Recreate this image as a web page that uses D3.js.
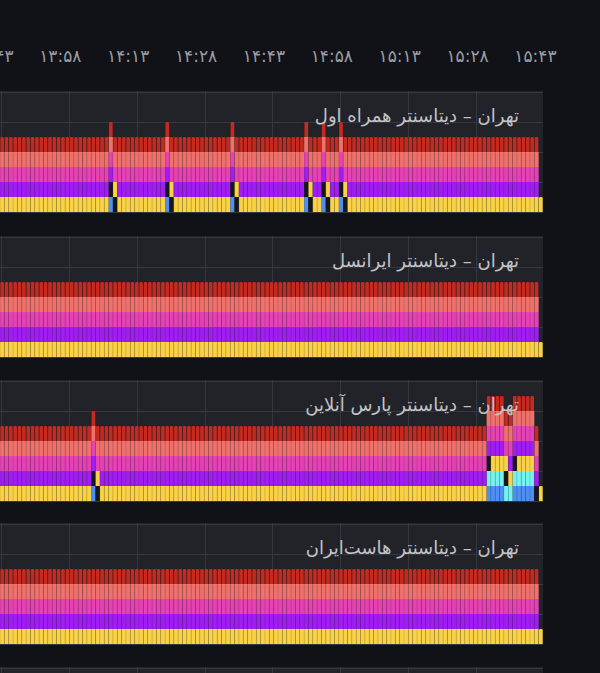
<!DOCTYPE html>
<html lang="fa">
<head>
<meta charset="utf-8">
<style>
  body { margin: 0; background: #111217; }
  svg { display: block; }
  .tick text { font-family: "DejaVu Sans", sans-serif; }
</style>
</head>
<body>
<svg id="chart" width="600" height="673"></svg>
<script src="https://cdn.jsdelivr.net/npm/d3@7"></script>
<script>
// stack order, bottom to top
var seriesKeys   = ["blue", "cyan", "dark", "yellow", "purple", "magenta", "salmon", "red"];
var seriesColors = ["#4f8ef2", "#74f3ef", "#16171c", "#f9d246", "#a11ef3", "#e542b3", "#ef716c", "#c52a20"];

// which series are up (value 1) for each kind of bar
var barCodes = {
  n: ["yellow", "purple", "magenta", "salmon", "red"],
  s: ["blue", "dark", "purple", "magenta", "salmon", "red"],
  p: ["dark", "yellow", "magenta", "salmon", "red"],
  a: ["blue", "cyan", "dark", "purple", "magenta", "salmon", "red"],
  b: ["blue", "cyan", "yellow", "purple", "magenta", "salmon", "red"],
  c: ["cyan", "dark", "yellow", "magenta", "salmon", "red"],
  d: ["cyan", "yellow", "purple", "magenta", "salmon", "red"],
  e: ["dark", "purple", "magenta", "salmon", "red"],
  y: ["yellow"]
};

var panelTitles = [
  "تهران – دیتاسنتر همراه اول",
  "تهران – دیتاسنتر ایرانسل",
  "تهران – دیتاسنتر پارس آنلاین",
  "تهران – دیتاسنتر هاست‌ایران",
  ""
];

// one letter per bar (125 bars per panel), rows of ten
var bars1 = ["nnnnnnnnnn","nnnnnnnnnn","nnnnnspnnn","nnnnnnnnsp","nnnnnnnnnn","nnnspnnnnn",
             "nnnnnnnnnn","spnnspnnsp","nnnnnnnnnn","nnnnnnnnnn","nnnnnnnnnn","nnnnnnnnnn","nnnny"];
var bars2 = ["nnnnnnnnnn","nnnnnnnnnn","nnnnnnnnnn","nnnnnnnnnn","nnnnnnnnnn","nnnnnnnnnn",
             "nnnnnnnnnn","nnnnnnnnnn","nnnnnnnnnn","nnnnnnnnnn","nnnnnnnnnn","nnnnnnnnnn","nnnny"];
var bars3 = ["nnnnnnnnnn","nnnnnnnnnn","nspnnnnnnn","nnnnnnnnnn","nnnnnnnnnn","nnnnnnnnnn",
             "nnnnnnnnnn","nnnnnnnnnn","nnnnnnnnnn","nnnnnnnnnn","nnnnnnnnnn","nnabbbcdab","bbbey"];
var bars4 = ["nnnnnnnnnn","nnnnnnnnnn","nnnnnnnnnn","nnnnnnnnnn","nnnnnnnnnn","nnnnnnnnnn",
             "nnnnnnnnnn","nnnnnnnnnn","nnnnnnnnnn","nnnnnnnnnn","nnnnnnnnnn","nnnnnnnnnn","nnnny"];
var panelBars = [bars1, bars2, bars3, bars4, null];

var tickTimes  = ["13:43", "13:58", "14:13", "14:28", "14:43", "14:58", "15:13", "15:28", "15:43"];
var tickLabels = ["۱۳:۴۳", "۱۳:۵۸", "۱۴:۱۳", "۱۴:۲۸", "۱۴:۴۳", "۱۴:۵۸", "۱۵:۱۳", "۱۵:۲۸", "۱۵:۴۳"];

var timeStart = "13:44:47", timeEnd = "15:44:47";

// ---------------------------------------------------------------

var svg = d3.select("#chart");
var plotW = 543;
var panelH = 121;
var panelTops = [91, 236, 380, 523, 667];

var parseT = d3.timeParse("%H:%M:%S");
var parseHM = d3.timeParse("%H:%M");
var x = d3.scaleTime().domain([parseT(timeStart), parseT(timeEnd)]).range([0, plotW]);

svg.append("rect").attr("width", 600).attr("height", 673).attr("fill", "#111217");

// time axis on top
var axis = svg.append("g")
    .attr("transform", "translate(0,46)")
    .call(d3.axisTop(x)
      .tickValues(tickTimes.map(parseHM))
      .tickFormat(function(d, i) { return tickLabels[i]; })
      .tickSize(0).tickPadding(0));
axis.select(".domain").remove();
axis.selectAll("text")
    .attr("fill", "#9b9da4")
    .attr("font-size", 17)
    .attr("dy", "0.95em");

var colorOf = d3.scaleOrdinal().domain(seriesKeys).range(seriesColors);

function topPath(x0, y0, w, h, r) {
  return "M" + x0 + "," + (y0 + h) + "V" + (y0 + r) +
    "Q" + x0 + "," + y0 + " " + (x0 + r) + "," + y0 +
    "H" + (x0 + w - r) + "Q" + (x0 + w) + "," + y0 + " " + (x0 + w) + "," + (y0 + r) +
    "V" + (y0 + h) + "Z";
}

panelTops.forEach(function(top, pi) {
  var g = svg.append("g");
  var y = d3.scaleLinear().domain([0, 8]).range([top + panelH, top + 1]);

  g.append("rect")
    .attr("x", -10).attr("y", top)
    .attr("width", plotW + 10).attr("height", panelH)
    .attr("fill", "#212329");

  // grid
  g.selectAll(".vgrid").data(x.ticks(d3.timeMinute.every(15)))
    .enter().append("line")
    .attr("x1", function(d) { return Math.round(x(d)) + 0.5; })
    .attr("x2", function(d) { return Math.round(x(d)) + 0.5; })
    .attr("y1", top).attr("y2", top + panelH)
    .attr("stroke", "#35383e").attr("stroke-width", 1);
  g.selectAll(".hgrid").data([0, 2, 4, 6, 8])
    .enter().append("line")
    .attr("x1", -10).attr("x2", plotW)
    .attr("y1", function(d) { return Math.round(y(d)) + 0.5; })
    .attr("y2", function(d) { return Math.round(y(d)) + 0.5; })
    .attr("stroke", "#35383e").attr("stroke-width", 1);

  var codes = panelBars[pi];
  if (codes) {
    var letters = codes.join("").split("");
    var rows = letters.map(function(c, i) {
      var row = { i: i, total: barCodes[c].length };
      seriesKeys.forEach(function(k) { row[k] = barCodes[c].indexOf(k) >= 0 ? 1 : 0; });
      return row;
    });
    var xb = d3.scaleBand().domain(d3.range(rows.length)).range([0, plotW]).padding(0);
    var bw = xb.bandwidth();
    var stacked = d3.stack().keys(seriesKeys)(rows);

    stacked.forEach(function(layer) {
      var col = colorOf(layer.key);
      layer.forEach(function(d) {
        if (d[1] <= d[0]) return;
        var x0 = xb(d.data.i), w = bw;
        var y0 = y(d[1]), h = y(d[0]) - y(d[1]);
        var mark;
        if (d[1] === d.data.total) {
          mark = g.append("path").attr("d", topPath(x0 + 0.3, y0, w - 0.6, h, 1.4));
        } else {
          mark = g.append("rect").attr("x", x0).attr("y", y0)
            .attr("width", w).attr("height", h);
        }
        mark.attr("fill", col);
        // faint darker edge between neighbouring bars
        g.append("line")
          .attr("x1", x0).attr("x2", x0).attr("y1", y0 + 0.5).attr("y2", y0 + h)
          .attr("stroke", "#000").attr("stroke-opacity", 0.16).attr("stroke-width", 0.8);
      });
    });
  }

  g.append("text")
    .attr("x", 519).attr("y", top + 31)
    .attr("text-anchor", "end")
    .attr("font-family", "DejaVu Sans, sans-serif")
    .attr("font-size", 18)
    .attr("fill", "#c2c3c8")
    .text(panelTitles[pi]);
});
</script>
</body>
</html>
